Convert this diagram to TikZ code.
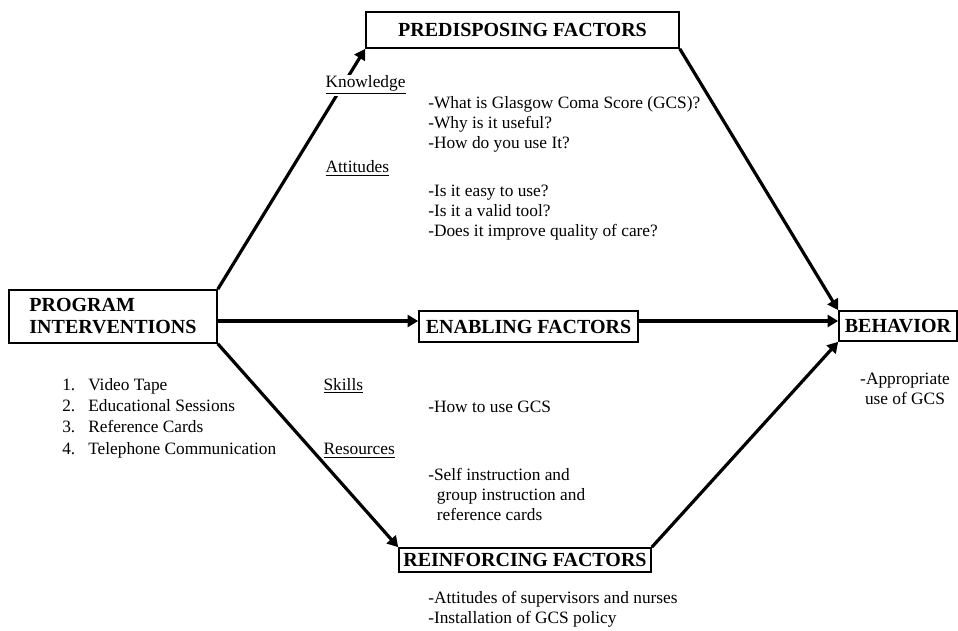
\documentclass[tikz,border=0pt]{standalone}
\usepackage{fontspec}
\setmainfont{Liberation Serif}
\usepackage{tikz}
\usetikzlibrary{arrows.meta, positioning}
\tikzset{
  factor/.style={
    draw, rectangle, inner sep=2pt,
    font=\fontsize{15}{16.5}\selectfont\bfseries,
    line width=1.2pt
  },
  heading/.style={font=\fontsize{13}{15}\selectfont, fill=white, inner sep=1pt, anchor=base west},
  note/.style={font=\fontsize{13}{15}\selectfont, align=left, inner sep=0pt, anchor=north west},
  flow/.style={-{Triangle[length=8pt, width=9pt]}, line width=2.4pt}
}

\begin{document}
\begin{tikzpicture}[x=0.75pt, y=-0.75pt]
  \useasboundingbox (0,0) rectangle (958,631);

  % Program box
  \node[factor, align=left, minimum width=156pt, minimum height=39.75pt] (pi) at (113,316.5)
    {PROGRAM\\INTERVENTIONS};
  \node[note, font=\fontsize{13}{16}\selectfont] (tools) at (62,378)
    {\makebox[19.5pt][l]{1.}Video Tape\\
     \makebox[19.5pt][l]{2.}Educational Sessions\\
     \makebox[19.5pt][l]{3.}Reference Cards\\
     \makebox[19.5pt][l]{4.}Telephone Communication};

  % Factor boxes
  \node[factor, minimum width=234.75pt, minimum height=27pt] (pre)  at (522.5,30)  {PREDISPOSING FACTORS};
  \node[factor, minimum width=164.25pt, minimum height=23.25pt] (enab) at (528.5,326.5) {ENABLING FACTORS};
  \node[factor, minimum width=189pt, minimum height=18pt] (rein) at (525,560) {REINFORCING FACTORS};
  \node[factor, minimum width=88.5pt, minimum height=22.5pt] (beh) at (898,326) {BEHAVIOR};

  % Arrows
  \coordinate (row) at (0,321);
  \draw[flow] (pi.north east) -- (pre.south west);
  \draw[flow] (pi.east |- row) -- (enab.west |- row);
  \draw[flow] (pi.south east) -- (rein.north west);
  \draw[flow] (pre.south east) -- (beh.north west);
  \draw[flow] (enab.east |- row) -- (beh.west |- row);
  \draw[flow] (rein.north east) -- (beh.south west);

  % Predisposing
  \node[heading] (know) at (324,88) {\underline{Knowledge}};
  \node[note] (knowq) at (428,96)
    {-What is Glasgow Coma Score (GCS)?\\-Why is it useful?\\-How do you use It?};
  \node[heading] (att) at (324,173) {\underline{Attitudes}};
  \node[note] (attq) at (428,185)
    {-Is it easy to use?\\-Is it a valid tool?\\-Does it improve quality of care?};

  % Enabling
  \node[heading] (skill) at (322,390) {\underline{Skills}};
  \node[note] (skillq) at (428,401) {-How to use GCS};
  \node[heading] (res) at (322,455) {\underline{Resources}};
  \node[note] (resq) at (428,468)
    {-Self instruction and\\\hspace*{6.5pt}group instruction and\\\hspace*{6.5pt}reference cards};

  % Reinforcing
  \node[note] (reinq) at (428,591)
    {-Attitudes of supervisors and nurses\\-Installation of GCS policy};

  % Behavior
  \node[note, align=center, anchor=north] (behq) at (905,373) {-Appropriate\\use of GCS};
\end{tikzpicture}
\end{document}
